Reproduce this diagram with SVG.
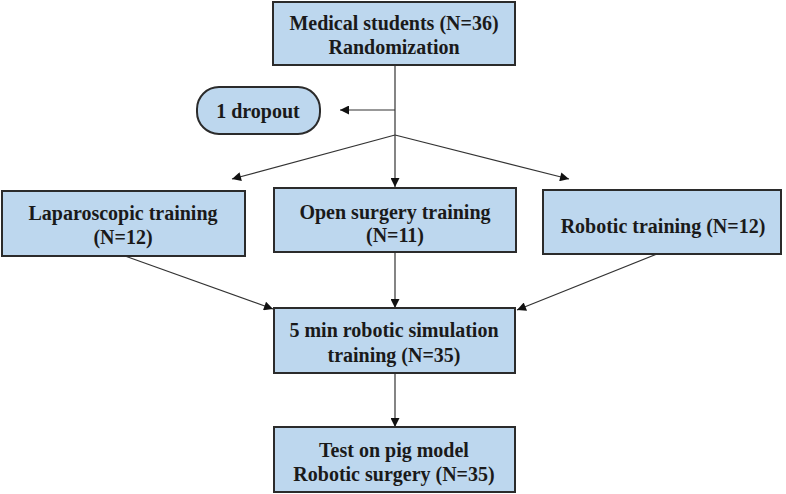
<svg xmlns="http://www.w3.org/2000/svg" width="786" height="494" viewBox="0 0 786 494">
<defs>
<style>
.box{fill:#BDD7EE;stroke:#2b2b2b;stroke-width:2}
.t{font-family:"Liberation Serif","Times New Roman",serif;font-weight:bold;font-size:20px;fill:#1a1a1a;text-anchor:middle;dominant-baseline:central}
.ln{stroke:#333;stroke-width:1.2;fill:none}
</style>
<marker id="ah" viewBox="0 0 10 10" refX="10" refY="5" markerWidth="11" markerHeight="9" markerUnits="userSpaceOnUse" orient="auto">
<path d="M0,0 L10,5 L0,10 z" fill="#111"/>
</marker>
</defs>
<rect width="786" height="494" fill="#fff"/>
<g id="connectors">
<line class="ln" x1="395" y1="65" x2="395" y2="187" marker-end="url(#ah)"/>
<line class="ln" x1="395" y1="110" x2="340" y2="110" marker-end="url(#ah)"/>
<line class="ln" x1="395" y1="135" x2="232" y2="179" marker-end="url(#ah)"/>
<line class="ln" x1="395" y1="135" x2="569" y2="179" marker-end="url(#ah)"/>
<line class="ln" x1="125" y1="256" x2="273" y2="309" marker-end="url(#ah)"/>
<line class="ln" x1="395" y1="252" x2="395" y2="308" marker-end="url(#ah)"/>
<line class="ln" x1="657" y1="254" x2="517" y2="310" marker-end="url(#ah)"/>
<line class="ln" x1="395" y1="373" x2="395" y2="427" marker-end="url(#ah)"/>
</g>
<g id="n_top">
<rect class="box" x="273" y="2" width="242" height="63"/>
<text class="t" x="394" y="23">Medical students (N=36)</text>
<text class="t" x="394" y="47">Randomization</text>
</g>
<g id="n_dropout">
<rect class="box" x="197" y="87" width="123" height="47" rx="22" ry="22"/>
<text class="t" x="258" y="111">1 dropout</text>
</g>
<g id="n_lap">
<rect class="box" x="2" y="191" width="243" height="65"/>
<text class="t" x="123" y="213">Laparoscopic training</text>
<text class="t" x="123" y="237">(N=12)</text>
</g>
<g id="n_open">
<rect class="box" x="274" y="188" width="242" height="64"/>
<text class="t" x="395" y="212">Open surgery training</text>
<text class="t" x="395" y="235">(N=11)</text>
</g>
<g id="n_robotic">
<rect class="box" x="543" y="190" width="238" height="64"/>
<text class="t" x="663" y="226">Robotic training (N=12)</text>
</g>
<g id="n_sim">
<rect class="box" x="274" y="308" width="241" height="65"/>
<text class="t" x="394" y="330">5 min robotic simulation</text>
<text class="t" x="394" y="355">training (N=35)</text>
</g>
<g id="n_test">
<rect class="box" x="274" y="427" width="241" height="65"/>
<text class="t" x="394" y="450">Test on pig model</text>
<text class="t" x="394" y="474">Robotic surgery (N=35)</text>
</g>
</svg>
